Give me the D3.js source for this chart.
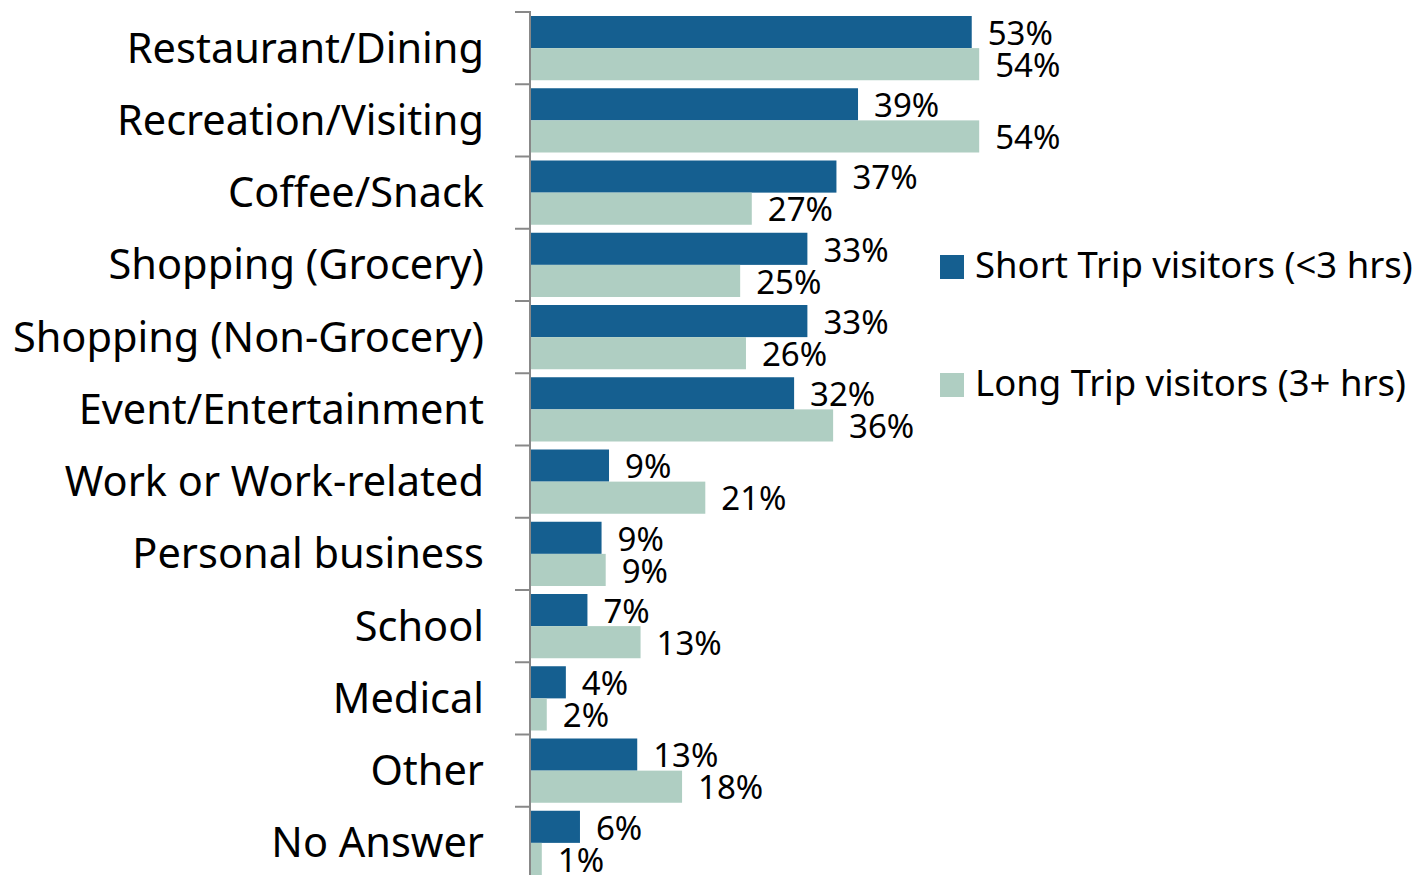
<!DOCTYPE html>
<html>
<head>
<meta charset="utf-8">
<script src="https://cdn.jsdelivr.net/npm/d3@7"></script>
<style>
  html, body { margin: 0; padding: 0; background: #fff; }
  svg { display: block; }
  text { font-family: "Noto Sans", "Open Sans", sans-serif; fill: #000; }
</style>
</head>
<body>
<svg id="chart" width="1423" height="875"></svg>
<script>
const categories = ["Restaurant/Dining", "Recreation/Visiting", "Coffee/Snack", "Shopping (Grocery)",
  "Shopping (Non-Grocery)", "Event/Entertainment", "Work or Work-related", "Personal business",
  "School", "Medical", "Other", "No Answer"];
const seriesNames = ["Short Trip visitors (<3 hrs)", "Long Trip visitors (3+ hrs)"];
const shortValues = [53.1, 39.4, 36.8, 33.3, 33.3, 31.7, 9.4, 8.5, 6.8, 4.2, 12.8, 5.9];
const longValues  = [54.0, 54.0, 26.6, 25.2, 25.9, 36.4, 21.0, 9.0, 13.2, 1.9, 18.2, 1.3];
const shortLabels = ["53%", "39%", "37%", "33%", "33%", "32%", "9%", "9%", "7%", "4%", "13%", "6%"];
const longLabels  = ["54%", "54%", "27%", "25%", "26%", "36%", "21%", "9%", "13%", "2%", "18%", "1%"];
const colors = ["#155f90", "#afcec2"];

const svg = d3.select("#chart");
const x0 = 531;
const x = d3.scaleLinear().domain([0, 60]).range([x0, x0 + 498]);
const y = d3.scaleBand().domain(categories).range([12, 879]).padding(0);
const bw = y.bandwidth();
const pad = 4;
const barH = (bw - 2 * pad) / 2;

const rows = categories.map((c, i) => ({
  cat: c,
  vals: [shortValues[i], longValues[i]],
  labels: [shortLabels[i], longLabels[i]]
}));

// bars
const g = svg.append("g");
rows.forEach(r => {
  r.vals.forEach((v, j) => {
    const yy = y(r.cat) + pad + j * barH;
    g.append("rect")
      .attr("x", x(0)).attr("y", yy)
      .attr("width", x(v) - x(0)).attr("height", barH)
      .attr("fill", colors[j]);
  });
});
rows.forEach(r => {
  r.vals.forEach((v, j) => {
    const yy = y(r.cat) + pad + j * barH;
    g.append("text")
      .attr("x", x(v) + 16).attr("y", yy + barH / 2 + 12.8)
      .attr("font-size", 33)
      .text(r.labels[j]);
  });
});

// axis
const axis = svg.append("g");
axis.append("line")
  .attr("x1", 530).attr("x2", 530).attr("y1", 12).attr("y2", 875)
  .attr("stroke", "#888").attr("stroke-width", 2);
d3.range(categories.length + 1).forEach(i => {
  const ty = 12 + i * bw;
  axis.append("line")
    .attr("x1", 515).attr("x2", 531).attr("y1", ty).attr("y2", ty)
    .attr("stroke", "#888").attr("stroke-width", 2);
});

// category labels
svg.append("g").selectAll("text").data(categories).join("text")
  .attr("x", 484).attr("y", d => y(d) + bw / 2 + 14.5)
  .attr("text-anchor", "end")
  .attr("font-size", 41.5)
  .text(d => d);

// legend
const legY = [255, 373];
seriesNames.forEach((s, j) => {
  svg.append("rect").attr("x", 940).attr("y", legY[j]).attr("width", 24).attr("height", 24)
    .attr("fill", colors[j]);
  svg.append("text").attr("x", 975).attr("y", legY[j] + 23)
    .attr("font-size", 36.5)
    .text(s);
});
</script>
</body>
</html>
